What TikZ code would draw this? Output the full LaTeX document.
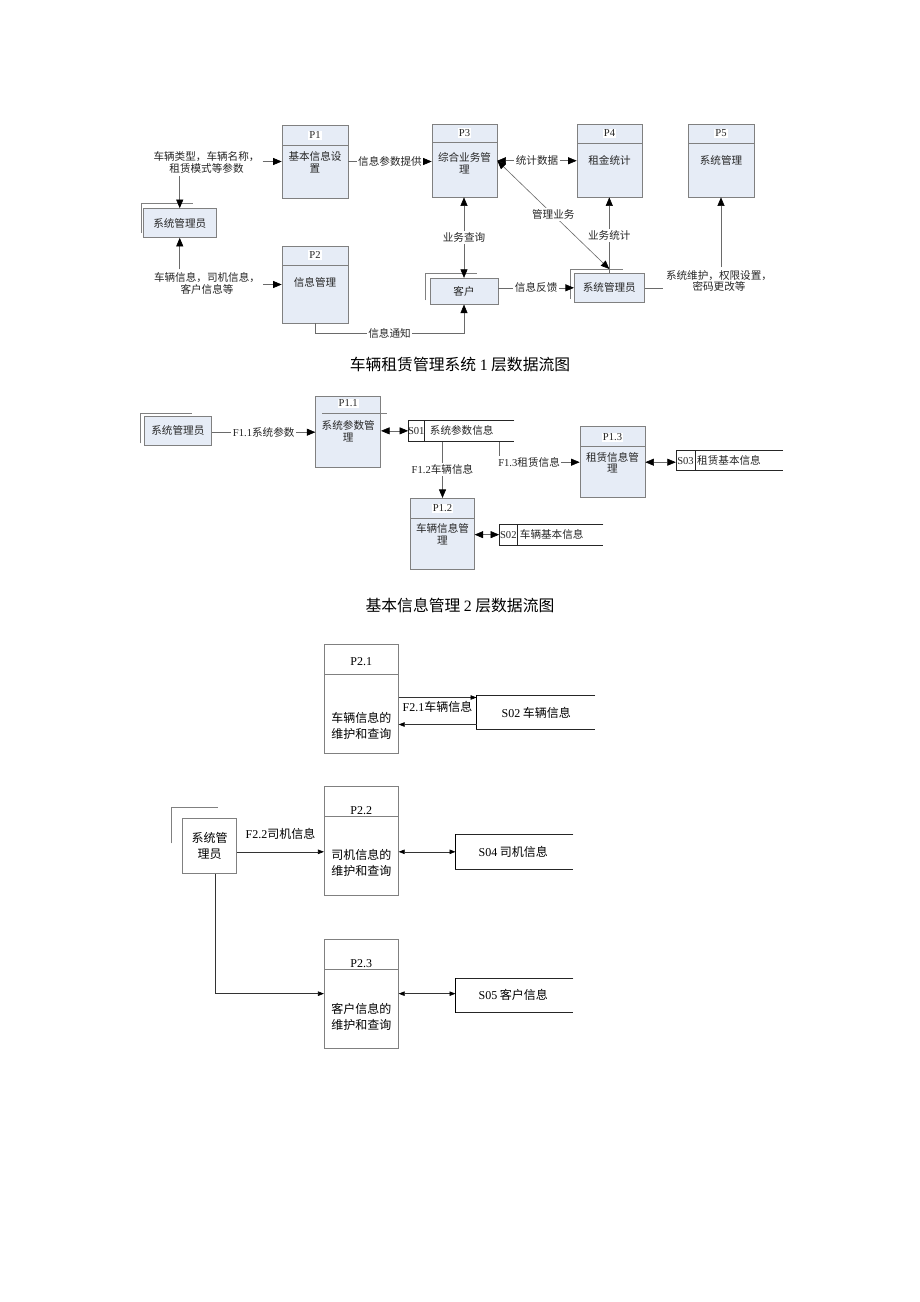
\documentclass[tikz,border=0pt]{standalone}
\usepackage{fontspec}
\setmainfont{Liberation Serif}
\newfontfamily\cjk{Noto Sans CJK SC}
\newfontfamily\lat{Liberation Serif}
\usetikzlibrary{arrows.meta,calc}
\definecolor{boxfill}{HTML}{E6ECF6}
\definecolor{boxgray}{HTML}{808080}
\definecolor{linegray}{HTML}{6A6A6A}
\definecolor{txtc}{HTML}{262626}
\tikzset{
  every node/.style={font=\cjk\fontsize{10.6}{11.5}\selectfont, text=txtc},
  proc/.style={draw=boxgray, fill=boxfill, line width=0.7pt, inner sep=0pt},
  ext/.style={draw=boxgray, fill=boxfill, line width=0.7pt, inner sep=0pt},
  divline/.style={draw=boxgray, line width=0.7pt},
  extline/.style={draw=boxgray, line width=0.6pt},
  storeline/.style={draw=black!85, line width=0.6pt},
  hdr/.style={fill=white, inner sep=1pt},
  body/.style={align=center, inner sep=0pt},
  txt/.style={align=center, inner sep=3pt},
  lbl/.style={fill=white, inner sep=1.5pt},
  conn/.style={draw=linegray, line width=0.6pt},
  onearr/.style={conn, -{Triangle[length=8.5pt,width=7pt,color=black]}},
  twoarr/.style={conn, {Triangle[length=8.5pt,width=7pt,color=black]}-{Triangle[length=8.5pt,width=7pt,color=black]}},
  captxt/.style={font=\cjk\fontsize{15.8}{17}\selectfont, text=black},
  big/.style={font=\cjk\fontsize{12}{16}\selectfont, text=black},
  proc2/.style={draw=boxgray, fill=white, line width=0.7pt, inner sep=0pt},
  conn2/.style={draw=black!80, line width=0.6pt},
  onearr2/.style={conn2, -{Triangle[length=6pt,width=4.5pt,color=black]}},
  twoarr2/.style={conn2, {Triangle[length=6pt,width=4.5pt,color=black]}-{Triangle[length=6pt,width=4.5pt,color=black]}},
}
% name, x1, y1, x2, y2, ydiv
\newcommand\procbox[6]{%
  \node[proc, minimum width={(#4-#2)*1pt}, minimum height={(#5-#3)*1pt}] (#1) at ({(#2+#4)/2},{(#3+#5)/2}) {};
  \draw[divline] (#2,#6) -- (#4,#6);
}
\newcommand\procboxw[6]{%
  \node[proc2, minimum width={(#4-#2)*1pt}, minimum height={(#5-#3)*1pt}] (#1) at ({(#2+#4)/2},{(#3+#5)/2}) {};
  \draw[divline] (#2,#6) -- (#4,#6);
}
% name, xleft, ytop, ybottom, xright
\newcommand\storebox[5]{%
  \node[inner sep=0pt, minimum width={(#5-#2)*1pt}, minimum height={(#4-#3)*1pt}] (#1) at ({(#2+#5)/2},{(#3+#4)/2}) {};
  \draw[storeline] (#5,#3) -- (#2,#3) -- (#2,#4) -- (#5,#4);
}
\begin{document}
\begin{tikzpicture}[x=1pt,y=-1pt]
\useasboundingbox[fill=white] (0,0) rectangle (920,1302);

% ================= Diagram 1 =================
\procbox{p1}{282}{125}{348}{198}{145}
\node[hdr] (p1h) at (315,135) {\lat P1};
\node[body] (p1b) at (315,162.5) {基本信息设\\置};

\procbox{p2}{282}{246}{348}{323}{265}
\node[hdr] (p2h) at (315,255) {\lat P2};
\node[body] (p2b) at (315,282) {信息管理};

\procbox{p3}{432}{124.5}{497}{197}{142}
\node[hdr] (p3h) at (464.5,133) {\lat P3};
\node[body] (p3b) at (464.5,163.5) {综合业务管\\理};

\procbox{p4}{577}{124.5}{642}{197}{143}
\node[hdr] (p4h) at (609.5,133.5) {\lat P4};
\node[body] (p4b) at (609.5,160) {租金统计};

\procbox{p5}{688}{124.5}{754}{197}{143}
\node[hdr] (p5h) at (721,133.5) {\lat P5};
\node[body] (p5b) at (721,160) {系统管理};

\draw[extline] (141.5,233) -- (141.5,203) -- (193,203);
\node[ext, minimum width=72.5pt, minimum height=29pt] (sa1) at (179.75,223) {系统管理员};

\draw[extline] (425.7,300) -- (425.7,273.3) -- (476.7,273.3);
\node[ext, minimum width=68pt, minimum height=26pt] (kh) at (464,291.2) {客户};

\draw[extline] (570,299) -- (570,269) -- (622.7,269);
\node[ext, minimum width=70pt, minimum height=29pt] (sa2) at (609.3,287.8) {系统管理员};

\node[txt] (l1) at (206.5,162.5) {车辆类型，车辆名称，\\租赁模式等参数};
\node[txt] (l2) at (207,283.3) {车辆信息，司机信息，\\客户信息等};
\node[txt] (l3) at (719,281) {系统维护，权限设置，\\密码更改等};

\draw[onearr] (l1.east |- p1.west) -- (p1.west);
\draw[onearr] (sa1.north |- l1.south) -- (sa1.north);
\draw[onearr] (l2.east |- p2.west) -- (p2.west);
\draw[onearr] (sa1.south |- l2.north) -- (sa1.south);

\draw[onearr] (p1.east) -- node[lbl]{信息参数提供} (p1.east -| p3.west);
\draw[twoarr] (p3.east |- p4.west) -- node[lbl]{统计数据} (p4.west);
\draw[twoarr] (kh.north |- p3.south) -- node[lbl]{业务查询} (kh.north);
\coordinate (sa2t) at (609.3,269);
\draw[twoarr] (p3.east) -- node[lbl]{管理业务} (sa2t);
\draw[onearr] (sa2.north) -- node[lbl]{业务统计} (sa2.north |- p4.south);
\draw[onearr] (kh.east |- sa2.west) -- node[lbl]{信息反馈} (sa2.west);
\draw[onearr] (p2.south) |- node[lbl,pos=0.75]{信息通知} ($(kh.south)+(0,29)$) -- (kh.south);
\draw[conn] (sa2.east) -- (sa2.east -| l3.west);
\draw[onearr] (p5.south |- l3.north) -- (p5.south);

\node[captxt] (cap1) at (460,365) {车辆租赁管理系统 {\lat 1} 层数据流图};

% ================= Diagram 2 =================
\draw[extline] (140.7,443.3) -- (140.7,413.3) -- (191.7,413.3);
\node[ext, minimum width=67.7pt, minimum height=28.3pt] (sa3) at (177.85,430.85) {系统管理员};

\node[proc, minimum width=65pt, minimum height=71pt] (p11) at (348.2,432.2) {};
\draw[divline] (322,413.3) -- (387,413.3);
\node[hdr] (p11h) at (348.2,403.5) {\lat P1.1};
\node[body] (p11b) at (348.2,431.5) {系统参数管\\理};

\draw[onearr] (sa3.east |- p11.west) -- node[lbl]{{\lat F1.1}系统参数} (p11.west);

\storebox{s01}{408.3}{420}{441.7}{514.3}
\draw[storeline] (424.3,420) -- (424.3,441.7);
\node[inner sep=0pt] (s01i) at (416.3,430.85) {\lat S01};
\node[inner sep=0pt] (s01t) at (461.7,430.85) {系统参数信息};
\draw[twoarr] (p11.east |- s01.west) -- (s01.west);

\procbox{p12}{410.7}{498.3}{474.3}{569}{518.3}
\node[hdr] (p12h) at (442.5,508.3) {\lat P1.2};
\node[body] (p12b) at (442.5,534) {车辆信息管\\理};
\draw[onearr] (p12.north |- s01.south) -- node[lbl]{{\lat F1.2}车辆信息} (p12.north);

\procbox{p13}{580}{426.7}{645}{497.7}{446.7}
\node[hdr] (p13h) at (612.5,437.3) {\lat P1.3};
\node[body] (p13b) at (612.5,462.5) {租赁信息管\\理};
\draw[onearr] ($(s01.south east)+(-15,0)$) |- node[lbl,pos=0.5,anchor=west,xshift=-3pt]{{\lat F1.3}租赁信息} (p13.west);

\storebox{s03}{676}{450.7}{470.7}{783}
\draw[storeline] (695,450.7) -- (695,470.7);
\node[inner sep=0pt] (s03i) at (685.5,460.7) {\lat S03};
\node[inner sep=0pt] (s03t) at (729,460.7) {租赁基本信息};
\draw[twoarr] (p13.east) -- (p13.east -| s03.west);

\storebox{s02}{499.3}{524.3}{545}{603.3}
\draw[storeline] (517.3,524.3) -- (517.3,545);
\node[inner sep=0pt] (s02i) at (508.3,534.65) {\lat S02};
\node[inner sep=0pt] (s02t) at (551.7,534.65) {车辆基本信息};
\draw[twoarr] (p12.east |- s02.west) -- (s02.west);

\node[captxt] (cap2) at (460,605) {基本信息管理 {\lat 2} 层数据流图};

% ================= Diagram 3 =================
\procboxw{p21}{324.3}{644}{398.3}{753.3}{674}
\node[big, inner sep=0pt] (p21h) at (361.3,661.7) {\lat P2.1};
\node[big, body] (p21b) at (361.3,726.3) {车辆信息的\\维护和查询};

\storebox{s02b}{476.7}{695}{729.3}{595}
\draw[black, line width=1pt] (476.7,695) -- (476.7,729.3);
\node[big, inner sep=0pt] (s02bt) at (536.3,713) {{\lat S02} 车辆信息};
\coordinate (s02in) at ($(s02b.north west)+(0,2.7)$);
\coordinate (s02out) at ($(s02b.south west)+(0,-5)$);
\draw[onearr2] (s02in -| p21.east) -- node[big, below, inner sep=3pt]{{\lat F2.1}车辆信息} (s02in);
\draw[onearr2] (s02out) -- (s02out -| p21.east);

\draw[extline] (171.7,843.3) -- (171.7,807.7) -- (218.3,807.7);
\node[proc2, big, align=center, minimum width=54.4pt, minimum height=55pt] (sa4) at (209.5,845.8) {系统管\\理员};

\procboxw{p22}{324.3}{786}{398.3}{895}{816.7}
\node[big, inner sep=0pt] (p22h) at (361.3,810.5) {\lat P2.2};
\node[big, body] (p22b) at (361.3,862.5) {司机信息的\\维护和查询};

\storebox{s04}{455.7}{834.3}{869.3}{573.3}
\draw[black, line width=1pt] (455.7,834.3) -- (455.7,869.3);
\node[big, inner sep=0pt] (s04t) at (513.3,851.7) {{\lat S04} 司机信息};

\draw[onearr2] (sa4.east |- s04.west) -- node[big, pos=0.5, yshift=18.4pt]{{\lat F2.2}司机信息} (p22.west |- s04.west);
\draw[twoarr2] (p22.east |- s04.west) -- (s04.west);

\procboxw{p23}{324.3}{939}{398.3}{1048.3}{969}
\node[big, inner sep=0pt] (p23h) at (361.3,963.5) {\lat P2.3};
\node[big, body] (p23b) at (361.3,1016.7) {客户信息的\\维护和查询};

\storebox{s05}{455.7}{978.3}{1012.7}{573.3}
\draw[black, line width=1pt] (455.7,978.3) -- (455.7,1012.7);
\node[big, inner sep=0pt] (s05t) at (513.3,994.5) {{\lat S05} 客户信息};

\draw[onearr2] ($(sa4.south)+(5.5,0)$) |- (p23.west);
\draw[twoarr2] (p23.east) -- (p23.east -| s05.west);

\end{tikzpicture}
\end{document}
